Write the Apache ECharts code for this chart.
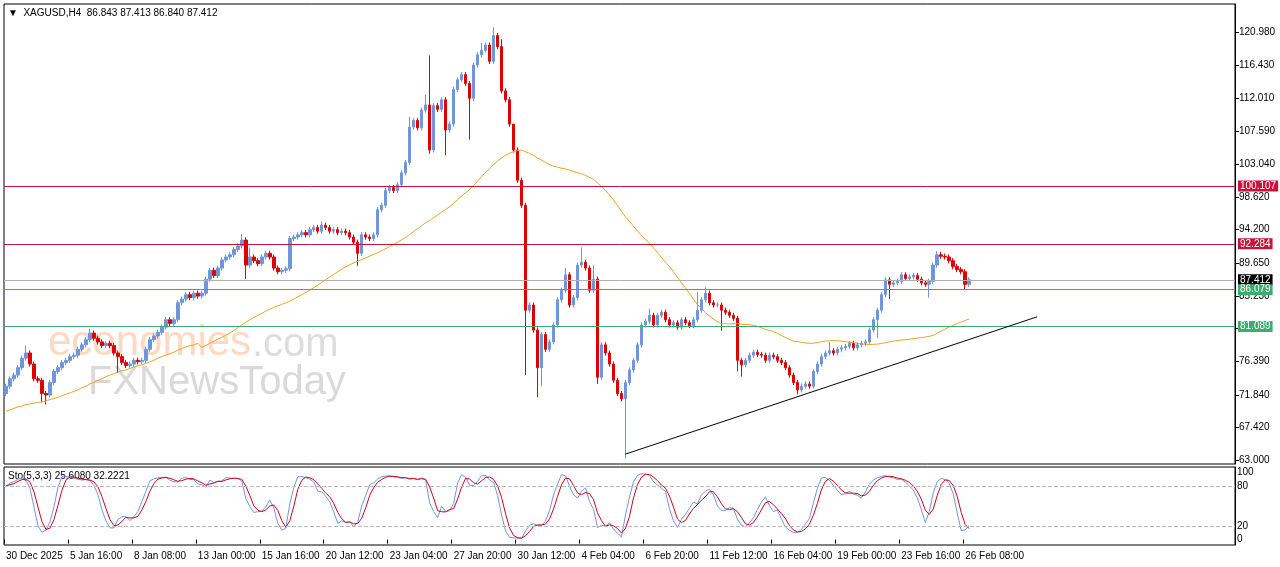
<!DOCTYPE html>
<html><head><meta charset="utf-8">
<script src="https://cdn.jsdelivr.net/npm/echarts@6/dist/echarts.min.js"></script>
<style>html,body{margin:0;padding:0;background:#fff}#c{width:1280px;height:567px}</style>
</head><body><div id="c"></div>
<script>
const closes=[73.0,74.0,74.5,75.5,76.8,77.5,76.0,74.0,73.8,72.0,71.8,73.5,75.0,75.5,76.2,76.5,77.0,77.2,78.0,78.6,
79.3,80.2,79.5,79.0,78.5,78.8,78.5,77.5,77.0,76.2,75.8,76.0,76.5,76.3,76.5,78.0,79.3,79.8,80.3,81.0,
82.0,81.5,82.0,84.3,84.8,85.4,85.0,85.6,85.2,85.6,87.5,88.7,88.0,89.0,90.1,90.5,90.8,91.5,92.0,92.8,
89.4,90.5,90.0,89.6,90.5,91.0,90.5,89.0,88.5,88.7,88.9,93.0,93.2,93.5,93.8,93.5,94.2,94.5,94.0,94.8,
94.5,94.0,94.2,93.8,94.0,93.8,93.2,92.5,91.0,93.5,93.2,93.0,93.5,96.9,97.5,99.5,99.9,99.5,100.3,101.9,
103.3,108.1,109.0,108.0,110.4,111.1,105.0,111.0,110.5,111.8,107.7,108.5,113.2,114.5,115.2,114.0,112.0,116.5,117.9,118.5,
119.2,117.0,120.5,119.0,113.0,111.8,108.5,105.0,100.9,97.5,83.3,84.0,80.6,75.5,80.0,78.0,79.0,81.3,84.7,86.0,
88.1,84.0,85.0,89.4,89.8,89.0,86.0,87.5,74.2,78.6,77.5,76.0,73.8,72.0,71.3,73.5,75.2,76.5,78.6,81.3,
81.8,82.6,81.3,82.6,83.0,82.0,81.3,81.6,81.0,82.0,81.6,81.2,82.0,83.3,84.7,85.6,84.3,84.0,84.0,83.3,
83.0,82.6,82.2,76.5,75.9,76.5,77.2,77.6,77.3,77.2,76.5,77.2,77.0,76.5,76.2,75.5,74.5,73.5,72.5,73.0,
73.3,73.0,75.0,76.0,77.0,77.5,77.8,77.5,78.0,78.2,78.4,78.8,78.2,78.6,78.8,79.0,80.6,82.0,83.3,85.4,
87.4,86.8,87.0,87.2,88.1,87.6,87.8,88.0,87.5,87.0,86.8,87.2,89.4,90.8,90.6,90.5,90.0,89.2,88.8,88.5,
86.8,87.412];
const firstOpen=72.0;
const highOverrides={5:78.5,21:80.8,59:93.6,61:91.8,79:95.3,101:109.5,105:112.5,106:117.8,119:119.5,122:121.6,124:120.0,127:106.5,140:89.0,144:91.8,147:89.4,161:83.5,173:85.8,175:86.4,206:79.0,233:91.3,234:91.2};
const lowOverrides={9:70.8,10:70.5,28:74.8,60:87.5,88:89.3,106:104.5,110:104.3,116:106.4,130:74.5,133:71.5,134:73.0,148:73.3,155:63.2,179:80.5,183:75.0,184:74.3,198:71.9,218:79.5,221:84.8,231:85.0,240:86.0};
const maHead=[69.6,69.8,70.0,70.2,70.3,70.5,70.6,70.7,70.8,70.9,71.0,71.2,71.3,71.5,71.7,71.9,72.1,72.3,72.5,72.8,
73.0,73.3,73.5,73.8,74.0,74.3,74.5,74.7,74.9,75.1,75.2,75.4,75.6,75.8,75.9,76.1,76.3,76.5,76.8,77.0,
77.2,77.4,77.6,77.9,78.1,78.3,78.5,78.6,78.8];
const priceTicks=[63.000,67.420,71.840,76.390,80.810,85.230,89.650,94.200,98.620,103.040,107.590,112.010,116.430,120.980];
const levels=[{v:100.107,c:'#c8143c',t:'100.107'},{v:92.284,c:'#c8143c',t:'92.284'},{v:87.412,c:'#b0b0b0',t:'87.412',bg:'#000'},{v:86.079,c:'#3cab6e',t:'86.079'},{v:81.089,c:'#3cab6e',t:'81.089'}];
const tickLabels=["30 Dec 2025","5 Jan 16:00","8 Jan 08:00","13 Jan 00:00","15 Jan 16:00","20 Jan 12:00","23 Jan 04:00","27 Jan 20:00","30 Jan 12:00","4 Feb 04:00","6 Feb 20:00","11 Feb 12:00","16 Feb 04:00","19 Feb 00:00","23 Feb 16:00","26 Feb 08:00"];
const trend=[[155,63.8],[258,82.4]];

const N=308, n=closes.length;
const cats=[];for(let i=0;i<N;i++)cats.push(i%16===0&&tickLabels[i/16]?tickLabels[i/16]:'');
const O=[],H=[],L=[],ohlc=[];
for(let i=0;i<n;i++){const o=i?closes[i-1]:firstOpen,c=closes[i];
 const h=highOverrides[i]!==undefined?Math.max(highOverrides[i],o,c):Math.max(o,c)+0.35;
 const l=lowOverrides[i]!==undefined?Math.min(lowOverrides[i],o,c):Math.min(o,c)-0.35;
 O.push(o);H.push(h);L.push(l);ohlc.push([o,c,l,h]);}
const ma=[];for(let i=0;i<n;i++){if(i<49)ma.push(maHead[i]);else{let s=0;for(let j=i-49;j<=i;j++)s+=closes[j];ma.push(+(s/50).toFixed(3));}}
const num=[],den=[];for(let i=0;i<n;i++){let hh=-1e9,ll=1e9;for(let j=Math.max(0,i-4);j<=i;j++){hh=Math.max(hh,H[j]);ll=Math.min(ll,L[j]);}num.push(closes[i]-ll);den.push(hh-ll);}
const K=[],D=[];for(let i=0;i<n;i++){let a=0,b=0;for(let j=Math.max(0,i-2);j<=i;j++){a+=num[j];b+=den[j];}K.push(b?a/b*100:50);}
for(let i=0;i<n;i++){let s=0,c=0;for(let j=Math.max(0,i-2);j<=i;j++){s+=K[j];c++;}D.push(s/c);}

const font='"Liberation Sans",Arial,sans-serif';
const tickIdx=i=>i%16===0&&i/16<tickLabels.length;
const ch=echarts.init(document.getElementById('c'));
ch.setOption({animation:false,
 grid:[{left:4,right:45,top:4,height:460,show:true,borderColor:'#000',borderWidth:1},
       {left:4,right:45,top:467,height:78,show:true,borderColor:'#000',borderWidth:1}],
 xAxis:[{type:'category',data:cats,gridIndex:0,boundaryGap:true,axisLine:{show:false},axisTick:{show:false},axisLabel:{show:false}},
        {type:'category',data:cats,gridIndex:1,boundaryGap:true,axisLine:{show:false},
         axisTick:{show:true,interval:tickIdx,length:4,lineStyle:{color:'#000'}},
         axisLabel:{interval:tickIdx,align:'left',margin:6,fontSize:10,color:'#000',fontFamily:font}}],
 yAxis:[{type:'value',gridIndex:0,position:'right',min:62.46,max:124.77,splitLine:{show:false},axisLine:{show:true,lineStyle:{color:'#000'}},
         axisTick:{show:true,customValues:priceTicks,length:4,inside:false,lineStyle:{color:'#000'}},
         axisLabel:{customValues:priceTicks,formatter:v=>v.toFixed(3),fontSize:10,color:'#000',fontFamily:font,margin:4}},
        {type:'value',gridIndex:1,position:'right',min:-8,max:108,splitLine:{show:false},axisLine:{show:true,lineStyle:{color:'#000'}},
         axisTick:{show:false},axisLabel:{customValues:[0,20,80,100],fontSize:10,color:'#000',fontFamily:font,margin:2}}],
 series:[
  {type:'candlestick',xAxisIndex:0,yAxisIndex:0,data:ohlc,barWidth:3,
   itemStyle:{color:'#6f96dc',color0:'#e00000',borderColor:'#6f96dc',borderColor0:'#e00000',borderWidth:1},
   markLine:{silent:true,symbol:'none',animation:false,
    data:levels.map(l=>({yAxis:l.v,lineStyle:{color:l.c,width:1,type:'solid'},
      label:{show:true,position:'end',distance:3,formatter:l.t,color:'#fff',backgroundColor:l.bg||l.c,padding:[1,2,0,2],fontSize:10,fontFamily:font}}))
     .concat([[{coord:[trend[0][0],trend[0][1]],lineStyle:{color:'#000',width:1,type:'solid'},label:{show:false}},{coord:[trend[1][0],trend[1][1]]}]])}},
  {type:'line',xAxisIndex:0,yAxisIndex:0,data:ma,showSymbol:false,lineStyle:{color:'#f0a020',width:1},z:3},
  {type:'line',xAxisIndex:1,yAxisIndex:1,data:K,showSymbol:false,lineStyle:{color:'#6f96dc',width:1},
   markLine:{silent:true,symbol:'none',label:{show:false},lineStyle:{color:'#bbb',type:'dashed',width:1},data:[{yAxis:20},{yAxis:80}]}},
  {type:'line',xAxisIndex:1,yAxisIndex:1,data:D,showSymbol:false,lineStyle:{color:'#d0021b',width:1}}
 ],
 graphic:[
  {type:'text',left:48,top:322,z:-1,style:{text:'economies',font:'42px '+font,fill:'rgba(250,170,120,0.45)'}},
  {type:'text',left:252,top:325,z:-1,style:{text:'.com',font:'40px '+font,fill:'rgba(180,180,180,0.45)'}},
  {type:'text',left:88,top:363,z:-1,style:{text:'FXNewsToday',font:'40px '+font,fill:'rgba(170,170,170,0.45)'}},
  {type:'text',left:8,top:8,style:{text:'▼  XAGUSD,H4  86.843 87.413 86.840 87.412',font:'10px '+font,fill:'#000'}},
  {type:'text',left:8,top:471,style:{text:'Sto(5,3,3) 25.6080 32.2221',font:'10px '+font,fill:'#000'}}
 ]});
</script></body></html>
